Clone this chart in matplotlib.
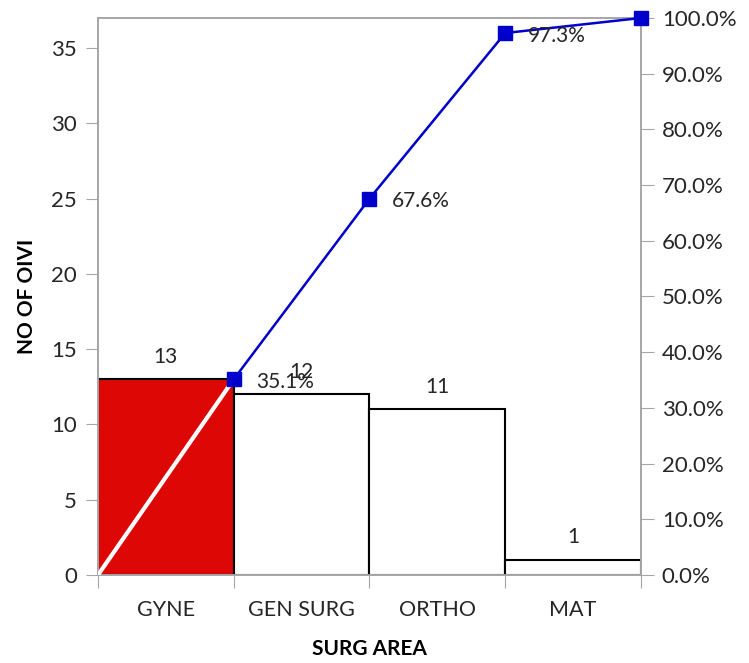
import matplotlib
matplotlib.use("Agg")
import matplotlib.pyplot as plt
from matplotlib.ticker import FuncFormatter, MultipleLocator

plt.rcParams['font.family'] = ['Lato', 'DejaVu Sans']

# Surgical areas and number of OIVI cases
categories = ["GYNE", "GEN SURG", "ORTHO", "MAT"]
counts = [13, 12, 11, 1]
cum_pct_labels = ["35.1%", "67.6%", "97.3%", ""]

total = sum(counts)
cum = []
running = 0
for c in counts:
    running += c
    cum.append(running / total * 100)

fig = plt.figure(figsize=(7.49, 6.63), dpi=100)
ax = fig.add_axes([0.1308, 0.1327, 0.725, 0.8402])

x = list(range(len(categories)))
bar_colors = ["#DD0806", "white", "white", "white"]
ax.bar(x, counts, width=1.0, color=bar_colors, edgecolor="black", linewidth=1.5, zorder=2)

for xi, c in zip(x, counts):
    ax.text(xi, c + 0.85, str(c), ha="center", va="bottom", fontsize=15, color="#262626", zorder=6)

ax.set_xlim(-0.5, len(categories) - 0.5)
ax.set_ylim(0, total)
ax.yaxis.set_major_locator(MultipleLocator(5))
ax.set_xticks([i - 0.5 for i in range(len(categories) + 1)])
ax.set_xticklabels([])
ax.set_xticks(x, minor=True)
ax.set_xticklabels(categories, minor=True)
ax.tick_params(axis="x", which="major", direction="out", length=9, color="#a6a6a6")
ax.tick_params(axis="x", which="minor", length=0, pad=18, labelsize=15.5, labelcolor="#262626")
ax.tick_params(axis="y", direction="out", length=9, color="#a6a6a6", labelsize=16,
               labelcolor="#262626", pad=6)
for sp in ax.spines.values():
    sp.set_color("#a6a6a6")
    sp.set_linewidth(1.2)

ax.set_ylabel("NO OF OIVI", fontsize=15, fontweight="bold", color="black", labelpad=10)
ax.set_xlabel("SURG AREA", fontsize=15, fontweight="bold", color="black", labelpad=14)

# Cumulative percentage on secondary axis
ax2 = ax.twinx()
ax2.set_ylim(0, 100)
ax2.yaxis.set_major_locator(MultipleLocator(10))
ax2.yaxis.set_major_formatter(FuncFormatter(lambda v, p: f"{v:.1f}%"))
ax2.tick_params(axis="y", direction="out", length=9, color="#a6a6a6", labelsize=16,
                labelcolor="#262626", pad=6)
for sp in ax2.spines.values():
    sp.set_color("#a6a6a6")
    sp.set_linewidth(1.2)

px = [i + 0.5 for i in x]
ax2.plot([-0.5, px[0]], [0, cum[0]], color="white", linewidth=3, zorder=3)
ax2.plot(px, cum, color="#0000CC", linewidth=1.8, marker="s", markersize=10.5,
         markerfacecolor="#0000CC", markeredgecolor="#0000CC", zorder=4, clip_on=False)
for xi, v, lab in zip(px, cum, cum_pct_labels):
    if lab:
        ax2.annotate(lab, (xi, v), xytext=(16, -2), textcoords="offset points",
                     ha="left", va="center", fontsize=15, color="#262626", zorder=6)
ax2.set_xlim(-0.5, len(categories) - 0.5)

fig.savefig("out.png", dpi=100)
